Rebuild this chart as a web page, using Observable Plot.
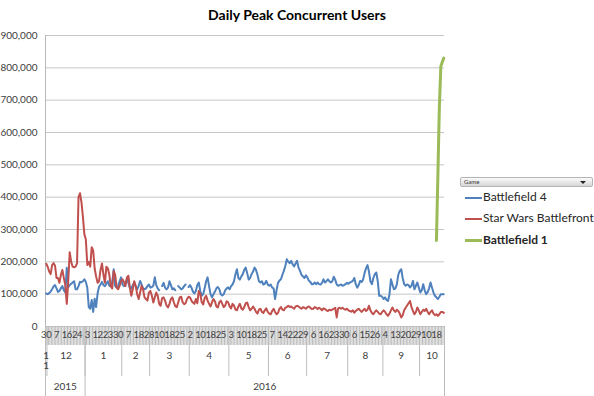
<!DOCTYPE html>
<html><head><meta charset="utf-8">
<script src="https://cdn.jsdelivr.net/npm/d3@7"></script>
<script src="https://cdn.jsdelivr.net/npm/@observablehq/plot@0.6"></script>
<style>
body{margin:0;background:#fff;}
#wrap{position:relative;width:594px;height:396px;font-family:Lato,"Open Sans",sans-serif;color:#404040;overflow:hidden;}
#chart{position:absolute;left:0;top:0;}
#title{position:absolute;left:0;top:6px;width:594px;text-align:center;font-weight:bold;font-size:14px;line-height:18px;color:#000;}
#gamebtn{position:absolute;left:460px;top:177px;width:131px;height:8px;border:1px solid #b4b4b4;border-radius:2px;background:linear-gradient(#fbfbfb,#d6d6d6);}
#gamebtn span{position:absolute;left:3px;top:0px;font-size:6px;line-height:8px;color:#333;}
#gamebtn i{position:absolute;right:6px;top:3px;width:0;height:0;border-left:3px solid transparent;border-right:3px solid transparent;border-top:3px solid #222;}
.leg{position:absolute;left:465px;font-size:12px;line-height:14px;color:#262626;white-space:nowrap;}
.leg b{display:inline-block;width:17px;vertical-align:middle;margin-right:1px;}
.daylab text{letter-spacing:-0.4px;}
</style></head>
<body>
<div id="wrap">
  <div id="chart"></div>
  <div id="title">Daily Peak Concurrent Users</div>
  <div id="gamebtn"><span>Game</span><i></i></div>
  <div id="legend"></div>
</div>
<script>
// ---- Categories / tick labels ----
const monthLabels = ["11","12","1","2","3","4","5","6","7","8","9","10"];
const monthSlotCounts = [1,26,25,19,27,27,27,26,28,24,25,17];
const yearLabels = ["2015","2016"];
const yearSlotCounts = [27,245];
const dayLabels = ["30","7","16","24","3","12","23","30","7","18","28","10","18","25","2","10","18","25","3","10","18","25","7","14","22","29","6","16","23","30","6","15","26","4","13","20","29","10","18"];
const dayLabelSlots = [0,7,14,21,28,35,42,49,56,63,70,77,84,91,98,105,112,119,126,133,140,147,154,161,168,175,182,189,196,203,210,217,224,231,238,245,252,259,266];
const yTickValues = [0,100000,200000,300000,400000,500000,600000,700000,800000,900000];

// ---- Series (thousands of users, one value per category slot) ----
const seriesNames = ["Battlefield 4","Star Wars Battlefront","Battlefield 1"];
const seriesColors = ["#4F81BD","#C0504D","#9BBB59"];

const battlefield4 = [
102,100,103,108,115,124,128,118,107,110,118,125,112,105,182,122,128,132,136,140,
115,115,125,138,137,140,146,138,120,60,55,82,45,86,60,102,123,130,138,128,
125,132,140,126,124,138,177,125,120,125,140,152,130,125,132,146,135,120,118,128,
135,125,115,125,141,130,118,115,118,125,130,120,122,126,152,128,118,112,null,125,
135,120,115,120,140,128,115,118,112,null,125,120,115,118,125,130,null,122,128,
120,108,102,110,128,136,110,95,100,118,140,152,125,100,90,100,108,118,122,115,
100,96,100,112,118,121,115,125,130,140,162,177,150,145,155,162,175,182,165,145,
150,162,170,182,175,160,140,136,140,130,132,141,130,126,130,120,118,85,112,135,
142,146,160,172,188,208,200,196,203,192,186,195,203,182,172,160,155,150,158,152,
142,138,131,131,136,131,136,131,130,135,146,136,140,146,140,136,
140,154,145,130,126,128,130,126,128,131,135,132,136,138,141,150,131,120,128,141,
138,145,165,180,190,170,140,131,150,162,167,140,95,95,92,85,90,82,79,100,
146,130,115,118,130,160,172,177,150,131,126,130,128,121,126,141,115,126,136,120,
105,112,131,112,100,106,118,136,120,105,95,90,85,92,100,100,100
];

const starWarsBattlefront = [
194,185,170,162,190,196,188,150,150,135,160,175,150,128,70,140,230,200,185,183,
185,195,400,412,385,340,285,270,190,200,185,245,235,180,155,135,140,175,195,160,
135,185,180,160,125,118,
172,160,121,115,125,140,146,138,125,152,157,120,95,115,140,125,100,85,105,126,
115,90,85,80,105,110,95,74,90,105,95,70,64,88,90,80,65,59,70,85,
90,75,62,60,75,90,92,75,69,72,85,92,90,
80,74,70,85,72,110,100,75,68,88,95,80,70,62,75,85,78,62,59,75,
80,70,60,65,78,75,62,56,70,65,52,50,62,70,56,52,60,72,74,60,
50,55,62,55,45,40,52,55,45,42,50,56,45,40,38,48,55,45,38,42,
55,60,52,50,58,60,64,60,62,58,55,62,64,62,58,55,60,58,55,60,
62,58,54,55,60,58,54,58,55,50,56,54,50,48,52,50,
52,55,58,28,56,58,55,58,54,52,55,50,48,46,50,43,48,52,55,50,
45,50,55,48,52,64,50,42,38,45,50,45,40,38,45,50,45,38,33,40,
50,59,50,45,52,48,40,28,35,50,58,65,72,79,60,48,38,45,59,50,
38,45,52,48,55,45,38,45,50,40,35,38,33,38,45,45,42
];

const battlefield1StartSlot = 266;
const battlefield1 = [266,470,680,805,818,830];

// ---- derived helpers (from the arrays above) ----
const totalSlots = d3.sum(monthSlotCounts);
const monthEdges = [0, ...d3.cumsum(monthSlotCounts)];
const yearEdges = [0, ...d3.cumsum(yearSlotCounts)];
const monthCenters = monthLabels.map((m,i)=>(monthEdges[i]+monthEdges[i+1])/2);
const yearCenters = yearLabels.map((m,i)=>(yearEdges[i]+yearEdges[i+1])/2);
const monthText = new Map(monthCenters.map((c,i)=>[c, monthLabels[i]==="11" ? "1\n1" : monthLabels[i]]));
const yearText = new Map(yearCenters.map((c,i)=>[c, yearLabels[i]]));
const dayCenters = dayLabelSlots.map(s=>s+0.5);
const dayText = new Map(dayCenters.map((c,i)=>[c, dayLabels[i]]));
const slotEdges = d3.range(0, totalSlots+1);
const val = d => d == null ? NaN : d*1000;

const chart = Plot.plot({
  width: 594, height: 396,
  marginLeft: 45, marginRight: 150, marginTop: 35, marginBottom: 70,
  style: {fontFamily: "Lato, 'Open Sans', sans-serif", fontSize: "10px", background: "#fff", color: "#404040", overflow: "visible"},
  x: {type: "linear", domain: [0, totalSlots]},
  y: {domain: [0, 900000]},
  marks: [
    Plot.gridY(yTickValues, {stroke: "#c6c6c6", strokeOpacity: 1}),
    Plot.ruleX([0], {stroke: "#b8b8b8"}),
    Plot.axisY({ticks: yTickValues, tickSize: 0, tickPadding: 8, tickFormat: d3.format(","), fill: "#404040", label: null, fontSize: 10}),
    Plot.axisX({ticks: slotEdges, tickSize: 19, tickFormat: () => "", stroke: "#bdbdbd", label: null}),
    Plot.axisX({ticks: monthEdges, tickSize: 50, tickFormat: () => "", stroke: "#bdbdbd", label: null}),
    Plot.axisX({ticks: yearEdges, tickSize: 70, tickFormat: () => "", stroke: "#bdbdbd", label: null}),
    Plot.axisX({ticks: dayCenters, tickSize: 0, tickPadding: 5, tickFormat: d => dayText.get(d), fill: "#404040", label: null, fontSize: 9.5, className: "daylab"}),
    Plot.axisX({ticks: monthCenters, tickSize: 0, tickPadding: 25, tickFormat: d => monthText.get(d), fill: "#404040", label: null, fontSize: 10, lineHeight: 1}),
    Plot.axisX({ticks: yearCenters, tickSize: 0, tickPadding: 56, tickFormat: d => yearText.get(d), fill: "#404040", label: null, fontSize: 10}),
    Plot.line(battlefield4, {x: (d,i)=>i+0.5, y: val, stroke: seriesColors[0], strokeWidth: 2, strokeLinejoin: "round"}),
    Plot.line(starWarsBattlefront, {x: (d,i)=>i+0.5, y: val, stroke: seriesColors[1], strokeWidth: 2, strokeLinejoin: "round"}),
    Plot.line(battlefield1, {x: (d,i)=>battlefield1StartSlot+i+0.5, y: val, stroke: seriesColors[2], strokeWidth: 3, strokeLinejoin: "round", strokeLinecap: "round"})
  ]
});
document.getElementById("chart").appendChild(chart);

// legend
const legTops = [190, 211, 233];
const legend = document.getElementById("legend");
seriesNames.forEach((name,i)=>{
  const div = document.createElement("div");
  div.className = "leg";
  div.style.top = legTops[i] + "px";
  if (i === 2) div.style.fontWeight = "bold";
  const b = document.createElement("b");
  b.style.borderTop = (i===2 ? 3 : 2) + "px solid " + seriesColors[i];
  div.appendChild(b);
  div.appendChild(document.createTextNode(name));
  legend.appendChild(div);
});
</script>
</body></html>
